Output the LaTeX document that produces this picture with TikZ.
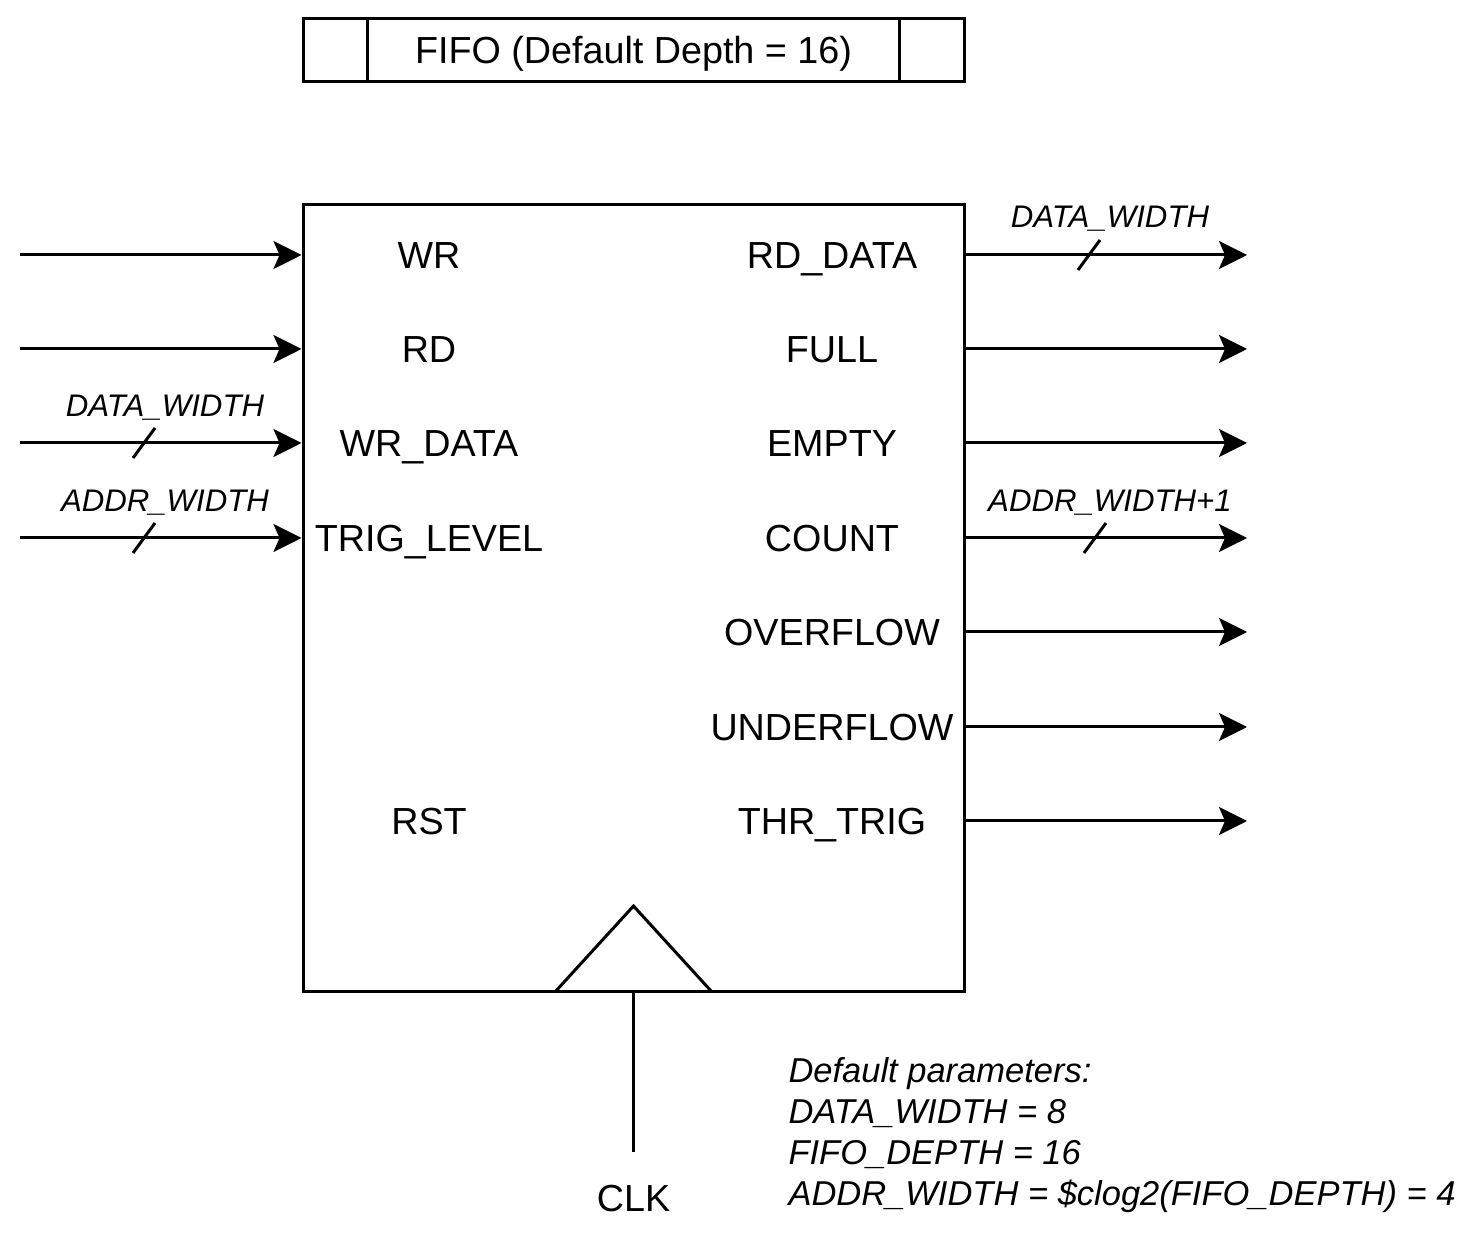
\documentclass[tikz,border=0pt]{standalone}
\usepackage{fontspec}
\setmainfont{Liberation Sans}
\usetikzlibrary{arrows.meta}
\tikzset{
    port/.style={font=\fontsize{18.85}{22}\selectfont, inner sep=0pt, text height=13.4pt, text depth=0pt},
    bus/.style={font=\fontsize{15.6}{18}\selectfont\itshape, inner sep=0pt, text height=11.1pt, text depth=0pt},
    note/.style={font=\fontsize{17.25}{20}\selectfont\itshape, inner sep=0pt, text height=12.35pt, text depth=0pt, anchor=west},
    sig/.style={-{Stealth[length=14pt,width=14pt,inset=3pt]}}
}
\begin{document}
\begin{tikzpicture}[x=0.5pt,y=-0.5pt,line width=1.5pt]
    \useasboundingbox (0,0) rectangle (1474,1234);
    \node[draw, port, minimum width=330.5pt, minimum height=31.5pt] (title) at (633.5,50.5) {FIFO (Default Depth = 16)};
    \draw ([xshift=33pt]title.north west) -- ([xshift=33pt]title.south west);
    \draw ([xshift=-33pt]title.north east) -- ([xshift=-33pt]title.south east);
    \node[draw, minimum width=330.5pt, minimum height=393.5pt] (fifo) at (633.5,598.5) {};
    \foreach \name/\txt/\yy in {wr/WR/255, rd/RD/349, wrdata/WR\_DATA/443, trig/TRIG\_LEVEL/538} {
        \node[port] (\name) at (429,\yy) {\txt};
        \coordinate (\name-in) at (20,\yy);
        \draw[sig] (\name-in) -- (\name-in -| fifo.west);
    }
    \node[port] (rst) at (429,821) {RST};
    \foreach \name/\txt/\yy in {rddata/RD\_DATA/255, full/FULL/349, empty/EMPTY/443, count/COUNT/538,
        ovf/OVERFLOW/632, udf/UNDERFLOW/727, thr/THR\_TRIG/821} {
        \node[port] (\name) at (832,\yy) {\txt};
        \coordinate (\name-out) at (1247,\yy);
        \draw[sig] (\name-out -| fifo.east) -- (\name-out);
    }
    \draw (144,443) ++(-11,15) -- ++(22,-30);
    \draw (144,538) ++(-11,15) -- ++(22,-30);
    \draw (1089,255) ++(-11,15) -- ++(22,-30);
    \draw (1095,538) ++(-11,15) -- ++(22,-30);
    \node[bus] (wrdata-w) at (165,405) {DATA\_WIDTH};
    \node[bus] (trig-w) at (165,500) {ADDR\_WIDTH};
    \node[bus] (rddata-w) at (1110,216) {DATA\_WIDTH};
    \node[bus] (count-w) at (1110,500) {ADDR\_WIDTH+1};
    \draw (555,992) -- (633.5,906) -- (712,992);
    \coordinate (clk-in) at (633.5,1152);
    \node[port] (clk) at (633.5,1198) {CLK};
    \draw (clk-in) -- (clk-in |- fifo.south);
    \node[note] (note1) at (787,1070) {Default parameters:};
    \node[note] (note2) at (787,1111) {DATA\_WIDTH = 8};
    \node[note] (note3) at (787,1152) {FIFO\_DEPTH = 16};
    \node[note] (note4) at (787,1193) {ADDR\_WIDTH = \$clog2(FIFO\_DEPTH) = 4};
\end{tikzpicture}
\end{document}
